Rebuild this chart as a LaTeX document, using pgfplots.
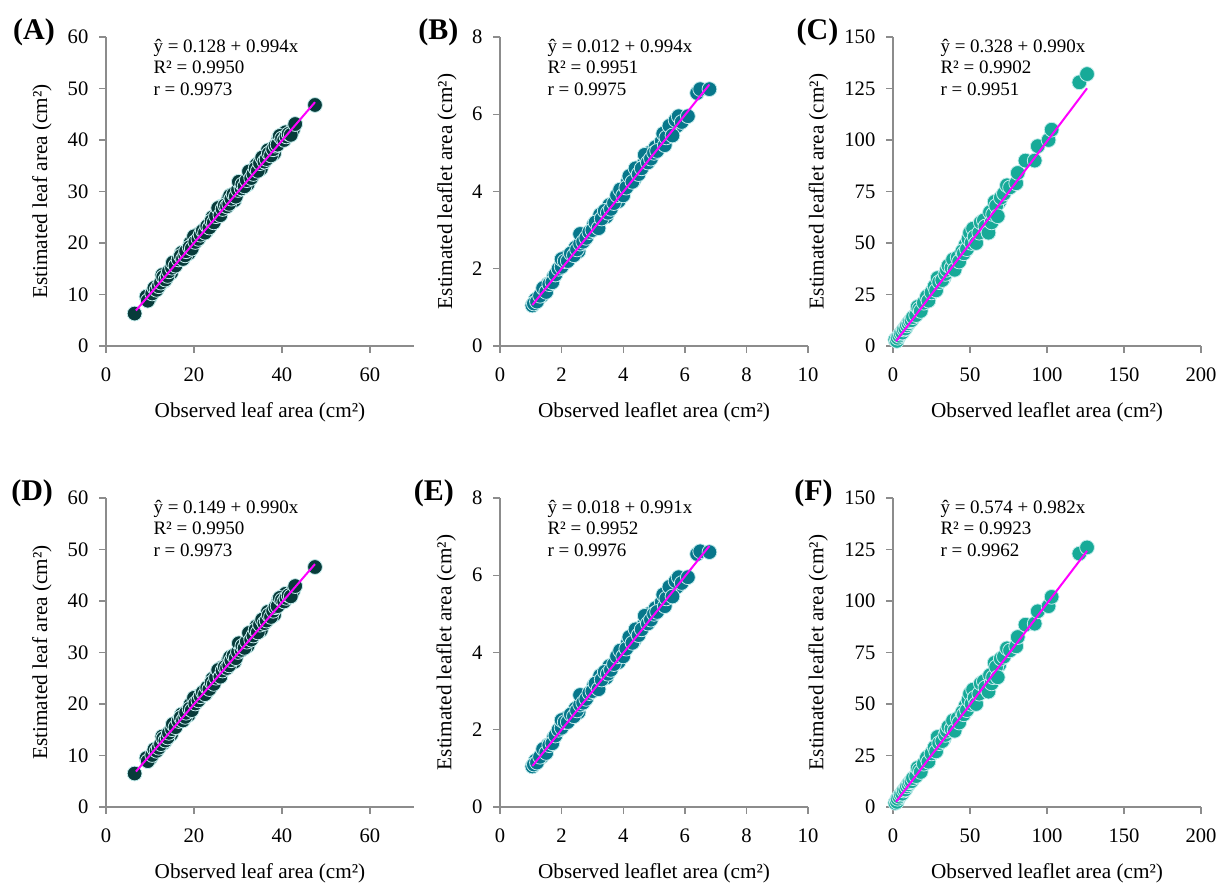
\documentclass[border=0pt]{standalone}
\usepackage{fontspec}
\setmainfont{Liberation Serif}
\usepackage{pgfplots}
\usepackage{pgfplotstable}
\pgfplotsset{compat=1.18}

\definecolor{axisgray}{HTML}{8C8C8C}
\definecolor{dotA}{HTML}{073B3A}
\definecolor{dotB}{HTML}{07778B}
\definecolor{dotC}{HTML}{17AA98}
\definecolor{dotedge}{HTML}{C4ECEC}
\definecolor{fitline}{HTML}{FF00FF}

% leaf area: observed, estimated (A), estimated (D)
\pgfplotstableread{
x    y1    y2
10   9.5   9.4
12.8 13.8  13.7
13.2 12.6  12.5
14.8 14.2  14.1
16   16.3  16.2
17.2 18.1  18.0
18.8 18.0  17.9
19.2 20.0  19.9
20.8 21.6  21.5
22.8 22.3  22.2
23.8 23.6  23.5
24.2 25.0  24.9
26.2 27.1  27.0
27.8 28.5  28.4
28.2 29.2  29.1
29.2 28.3  28.2
30.5 31.2  31.1
32.2 31.4  31.3
34.2 35.2  35.1
35.2 34.4  34.3
36.8 38.0  37.9
38.2 37.4  37.3
39.2 40.2  40.1
40.8 41.5  41.4
42.5 42.0  41.9
6.5  6.3   6.5
9.2  9.6   9.5
9.5  8.8   8.9
10.5 10.2  10.1
11   11.3  11.2
11.5 10.9  10.9
12   11.6  11.5
12.5 12.3  12.2
13   13.4  13.3
13.5 12.9  12.9
14   13.6  13.5
14.3 14.5  14.4
15   15.2  15.1
15.2 16.2  16.1
15.8 15.6  15.5
16.5 16.8  16.7
17   17.5  17.4
17.5 16.9  16.8
18   17.6  17.5
18.2 18.4  18.3
19   19.2  19.1
19.5 18.9  18.8
20   21.3  21.2
20.3 20.2  20.1
21   20.8  20.7
21.5 21.6  21.5
22   22.4  22.3
22.5 22.0  21.9
23   23.3  23.2
23.5 23.0  22.9
24   24.3  24.2
24.5 24.0  23.9
25   25.2  25.1
25.5 26.8  26.6
26   25.4  25.3
26.5 26.6  26.5
27   27.3  27.2
27.5 27.1  27.0
28   27.6  27.5
28.5 28.6  28.5
29   29.5  29.4
29.5 29.0  28.9
30   30.3  30.1
30.2 31.9  31.8
30.8 30.6  30.5
31   31.4  31.3
31.5 31.0  30.9
32   32.2  32.1
32.5 33.9  33.8
33   32.6  32.5
33.5 33.4  33.3
34   34.5  34.4
34.5 34.0  33.9
35   35.5  35.4
35.5 36.6  36.4
36   35.8  35.7
36.5 36.3  36.2
37   37.4  37.3
37.5 37.0  36.9
38   38.2  38.1
38.5 38.9  38.8
39   39.1  39.0
39.5 40.8  40.6
40   40.3  40.2
40.5 40.0  39.9
41   40.7  40.6
41.5 41.2  41.1
42   41.0  40.9
43   43.1  42.9
47.5 46.8  46.6
}\dataAD

% leaflet area: observed, estimated (B), estimated (E)
\pgfplotstableread{
x    y1    y2
1.15 1.20  1.20
1.35 1.30  1.30
1.55 1.60  1.60
1.75 1.80  1.80
2.15 2.30  2.30
2.45 2.55  2.55
2.55 2.45  2.45
2.75 2.85  2.85
3.05 3.15  3.15
3.25 3.40  3.40
3.45 3.35  3.35
3.55 3.65  3.65
3.85 3.75  3.75
4.15 4.25  4.25
4.35 4.30  4.30
4.65 4.70  4.70
4.85 5.00  5.00
5.05 5.15  5.15
5.25 5.30  5.30
5.45 5.55  5.55
5.75 5.70  5.70
1.05 1.05  1.05
1.1  1.10  1.10
1.2  1.15  1.15
1.3  1.30  1.30
1.4  1.50  1.50
1.5  1.40  1.40
1.6  1.60  1.60
1.7  1.65  1.65
1.8  1.85  1.85
1.9  2.00  2.00
2.0  2.05  2.05
2.0  2.25  2.25
2.1  2.20  2.20
2.2  2.20  2.20
2.3  2.40  2.40
2.4  2.35  2.35
2.5  2.50  2.50
2.6  2.65  2.65
2.6  2.90  2.90
2.7  2.70  2.70
2.8  2.80  2.80
2.9  2.95  2.95
3.0  3.00  3.00
3.1  3.20  3.20
3.2  3.05  3.05
3.3  3.30  3.30
3.4  3.50  3.50
3.5  3.45  3.45
3.6  3.55  3.55
3.7  3.70  3.70
3.8  3.90  3.90
3.9  4.05  4.05
4.0  3.90  3.90
4.1  4.10  4.10
4.2  4.40  4.40
4.3  4.25  4.25
4.4  4.60  4.60
4.5  4.45  4.45
4.6  4.60  4.60
4.7  4.95  4.95
4.8  4.75  4.75
4.9  4.85  4.85
5.0  5.00  5.00
5.1  5.05  5.05
5.3  5.50  5.50
5.35 5.20  5.20
5.4  5.40  5.40
5.5  5.70  5.70
5.6  5.45  5.45
5.7  5.85  5.85
5.8  5.95  5.95
5.9  5.80  5.80
6.1  5.95  5.95
6.4  6.55  6.55
6.5  6.65  6.62
6.8  6.65  6.60
}\dataBE

% leaflet area: observed, estimated (C), estimated (F)
\pgfplotstableread{
x    y1    y2
14   14.5  14.5
19   20    20
21   21.5  21.5
24   25    25
26   27    27
31   33    33
33   33    33
37   38    38
41   41    41
44   44    44
47   49    49
55   57    57
58   58    58
61   62    62
69   70    69
1.5  3.0   2.0
2.5  2.5   2.5
3    4     4
4    5     5
5    6     6
6    6.5   6.5
7    8     8
8    8.5   8.5
9    10    10
10   11    11
11   12    12
12   12.5  12.5
13   14    14
15   15    15
16   19    19
17   18    18
18   17    17
20   21    21
22   24    24
23   22    22
25   26    26
27   29    29
28   27    27
29   33    34
30   31    31
32   32    32
34   35    35
35   37    37
36   39    39
38   38    38
39   42    42
40   37    37
42   43    43
43   41    41
45   46    46
46   45    45
48   47    47
49   52    52
50   55    55
51   50    50
52   57    57
53   53    53
54   50    50
56   55    55
57   60    60
59   61    61
60   58    58
62   55    56
63   65    64
64   60    60
65   64    63
66   70    70
67   68    68
68   63    63
70   72    72
72   74    73
74   78    77
76   77    76
80   79    78
81   84    82.5
86   90    88.5
92   90    89
94   97    95
101  100   97.5
103  105   102
121  128   123
126  132   126
}\dataCF

\pgfplotsset{
  panel/.style={
    scale only axis, width=154pt, height=154.5pt,
    axis lines=left, axis line style={-, draw=axisgray, line width=0.7pt},
    tick style={draw=axisgray, line width=0.7pt},
    tick align=outside, major tick length=3.3pt,
    xmin=0, ymin=0, clip=false,
    tick label style={font=\fontsize{10.3}{12}\selectfont},
    label style={font=\fontsize{10.6}{12}\selectfont},
    /pgf/number format/assume math mode=true,
    xticklabel style={yshift=-4pt},
    yticklabel style={xshift=-2pt},
    xlabel style={at={(axis description cs:0.5,-0.214)}, anchor=center},
  },
  % a bare axis laid over a panel, so that the fitted line is drawn above the marks
  fitpanel/.style={
    scale only axis, width=154pt, height=154.5pt,
    hide axis, xmin=0, ymin=0, clip=false,
  },
  dots/.style={only marks, mark=*, mark size=3.7pt,
    mark options={fill=#1, draw=dotedge, line width=0.4pt}},
  fit/.style={no marks, draw=fitline, line width=1pt},
}
\newcommand{\eqtext}[3]{\node[anchor=north west, align=left, inner sep=0pt,
  font=\fontsize{9.5}{10.75}\selectfont] at (rel axis cs:0.153,0.995)
  {\^{y} = #1\\R² = #2\\r = #3};}
\newcommand{\panellabel}[2]{\node[font=\bfseries\fontsize{15}{18}\selectfont]
  at (rel axis cs:#1,1.016) {(#2)};}

\begin{document}
\begin{tikzpicture}
\path[use as bounding box] (0,0) rectangle (610pt,442pt);

% (A)
\begin{axis}[panel, at={(53pt,269pt)}, anchor=south west,
  xmax=70, ymax=60, xtick={0,20,40,60}, ytick={0,10,...,60},
  xlabel={Observed leaf area (cm²)}, ylabel={Estimated leaf area (cm²)},
  ylabel style={at={(axis description cs:-0.208,0.5)}, anchor=center}]
\addplot[dots=dotA] table[x=x, y=y1] {\dataAD};
\eqtext{0.128 + 0.994x}{0.9950}{0.9973}
\panellabel{-0.234}{A}
\end{axis}
\begin{axis}[fitpanel, at={(53pt,269pt)}, anchor=south west, xmax=70, ymax=60]
\addplot[fit] coordinates {(6.8,6.89) (47.5,47.34)};
\end{axis}

% (B)
\begin{axis}[panel, at={(250pt,269pt)}, anchor=south west,
  xmax=10, ymax=8, xtick={0,2,...,10}, ytick={0,2,...,8},
  xlabel={Observed leaflet area (cm²)}, ylabel={Estimated leaflet area (cm²)},
  ylabel style={at={(axis description cs:-0.172,0.5)}, anchor=center}]
\addplot[dots=dotB] table[x=x, y=y1] {\dataBE};
\eqtext{0.012 + 0.994x}{0.9951}{0.9975}
\panellabel{-0.2}{B}
\end{axis}
\begin{axis}[fitpanel, at={(250pt,269pt)}, anchor=south west, xmax=10, ymax=8]
\addplot[fit] coordinates {(1.05,1.06) (6.8,6.77)};
\end{axis}

% (C)
\begin{axis}[panel, at={(446.5pt,269pt)}, anchor=south west,
  xmax=200, ymax=150, xtick={0,50,...,200}, ytick={0,25,...,150},
  xlabel={Observed leaflet area (cm²)}, ylabel={Estimated leaflet area (cm²)},
  ylabel style={at={(axis description cs:-0.242,0.5)}, anchor=center}]
\addplot[dots=dotC] table[x=x, y=y1] {\dataCF};
\eqtext{0.328 + 0.990x}{0.9902}{0.9951}
\panellabel{-0.245}{C}
\end{axis}
\begin{axis}[fitpanel, at={(446.5pt,269pt)}, anchor=south west, xmax=200, ymax=150]
\addplot[fit] coordinates {(2,2.31) (126,125.07)};
\end{axis}

% (D)
\begin{axis}[panel, at={(53pt,38.5pt)}, anchor=south west,
  xmax=70, ymax=60, xtick={0,20,40,60}, ytick={0,10,...,60},
  xlabel={Observed leaf area (cm²)}, ylabel={Estimated leaf area (cm²)},
  ylabel style={at={(axis description cs:-0.208,0.5)}, anchor=center}]
\addplot[dots=dotA] table[x=x, y=y2] {\dataAD};
\eqtext{0.149 + 0.990x}{0.9950}{0.9973}
\panellabel{-0.24}{D}
\end{axis}
\begin{axis}[fitpanel, at={(53pt,38.5pt)}, anchor=south west, xmax=70, ymax=60]
\addplot[fit] coordinates {(6.8,6.88) (47.5,47.17)};
\end{axis}

% (E)
\begin{axis}[panel, at={(250pt,38.5pt)}, anchor=south west,
  xmax=10, ymax=8, xtick={0,2,...,10}, ytick={0,2,...,8},
  xlabel={Observed leaflet area (cm²)}, ylabel={Estimated leaflet area (cm²)},
  ylabel style={at={(axis description cs:-0.175,0.5)}, anchor=center}]
\addplot[dots=dotB] table[x=x, y=y2] {\dataBE};
\eqtext{0.018 + 0.991x}{0.9952}{0.9976}
\panellabel{-0.215}{E}
\end{axis}
\begin{axis}[fitpanel, at={(250pt,38.5pt)}, anchor=south west, xmax=10, ymax=8]
\addplot[fit] coordinates {(1.05,1.06) (6.8,6.76)};
\end{axis}

% (F)
\begin{axis}[panel, at={(446.5pt,38.5pt)}, anchor=south west,
  xmax=200, ymax=150, xtick={0,50,...,200}, ytick={0,25,...,150},
  xlabel={Observed leaflet area (cm²)}, ylabel={Estimated leaflet area (cm²)},
  ylabel style={at={(axis description cs:-0.243,0.5)}, anchor=center}]
\addplot[dots=dotC] table[x=x, y=y2] {\dataCF};
\eqtext{0.574 + 0.982x}{0.9923}{0.9962}
\panellabel{-0.258}{F}
\end{axis}
\begin{axis}[fitpanel, at={(446.5pt,38.5pt)}, anchor=south west, xmax=200, ymax=150]
\addplot[fit] coordinates {(2,2.54) (126,124.31)};
\end{axis}
\end{tikzpicture}
\end{document}
